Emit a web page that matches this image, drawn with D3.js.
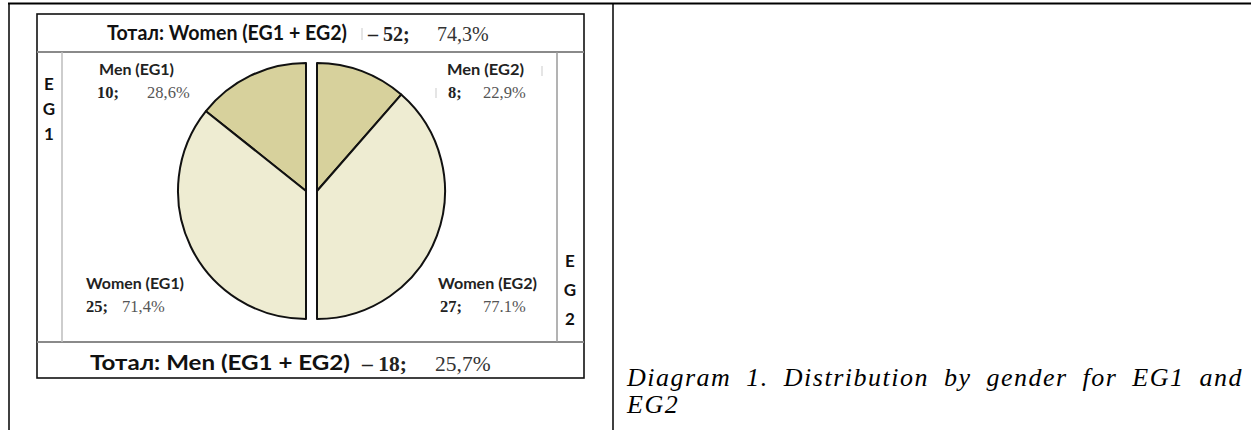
<!DOCTYPE html>
<html><head><meta charset="utf-8">
<script src="https://cdn.jsdelivr.net/npm/d3@7"></script>
<style>
html,body{margin:0;padding:0;background:#fff;}
svg{display:block;}
</style></head>
<body>
<svg id="c" width="1251" height="430"></svg>
<script>
// ---- data ----
const categories = ["Men", "Women"];
const eg1Values = [10, 25];
const eg2Values = [8, 27];
const eg1Pct = ["28,6%", "71,4%"];
const eg2Pct = ["22,9%", "77.1%"];
const totalCats = ["Women", "Men"];
const totalValues = [52, 18];
const totalPct = ["74,3%", "25,7%"];
const groupLetters1 = ["E", "G", "1"];
const groupLetters2 = ["E", "G", "2"];
const captionLine1 = "Diagram 1. Distribution by gender for EG1 and";
const captionLine2 = "EG2";

const colors = {Men: "#d7d19c", Women: "#eeecd2"};
const svg = d3.select("#c");
const sans = "Lato, 'Open Sans', sans-serif";
const serif = "'Liberation Serif', 'Times New Roman', serif";

// ---- outer document table ----
svg.append("line").attr("x1", 8).attr("x2", 1251).attr("y1", 3.5).attr("y2", 3.5).attr("stroke", "#000").attr("stroke-width", 2);
svg.append("line").attr("x1", 9).attr("x2", 9).attr("y1", 3).attr("y2", 430).attr("stroke", "#000").attr("stroke-width", 1.5);
svg.append("line").attr("x1", 613).attr("x2", 613).attr("y1", 3).attr("y2", 430).attr("stroke", "#000").attr("stroke-width", 1.5);

// ---- inner image box ----
const box = {x0: 37, x1: 584, y0: 14, y1: 378, head: 52, foot: 342, colL: 62, colR: 557};
svg.append("rect").attr("x", box.x0).attr("y", box.y0).attr("width", box.x1 - box.x0).attr("height", box.y1 - box.y0)
  .attr("fill", "#fff").attr("stroke", "#111").attr("stroke-width", 1.6);
svg.append("line").attr("x1", box.x0).attr("x2", box.x1).attr("y1", box.head).attr("y2", box.head).attr("stroke", "#8a8a8a").attr("stroke-width", 2);
svg.append("line").attr("x1", box.x0).attr("x2", box.x1).attr("y1", box.foot).attr("y2", box.foot).attr("stroke", "#8a8a8a").attr("stroke-width", 2);
svg.append("line").attr("x1", box.colL).attr("x2", box.colL).attr("y1", box.head).attr("y2", box.foot).attr("stroke", "#bdbdbd").attr("stroke-width", 1.5);
svg.append("line").attr("x1", box.colR).attr("x2", box.colR).attr("y1", box.head).attr("y2", box.foot).attr("stroke", "#9a9a9a").attr("stroke-width", 1.5);
// faint scan ticks
[[362, 28, 40], [542, 66, 76], [436, 88, 98]].forEach(([x, y1, y2]) =>
  svg.append("line").attr("x1", x).attr("x2", x).attr("y1", y1).attr("y2", y2).attr("stroke", "#d4d4d4").attr("stroke-width", 1.2));

// ---- group letters ----
svg.selectAll(".g1").data(groupLetters1).join("text")
  .attr("x", 49).attr("y", (d, i) => 90 + i * 25).attr("text-anchor", "middle")
  .attr("font-family", sans).attr("font-weight", 700).attr("font-size", 17).attr("fill", "#111").text(d => d);
svg.selectAll(".g2").data(groupLetters2).join("text")
  .attr("x", 570).attr("y", (d, i) => 267 + i * 29).attr("text-anchor", "middle")
  .attr("font-family", sans).attr("font-weight", 700).attr("font-size", 17).attr("fill", "#111").text(d => d);

// ---- totals rows ----
function totalRow(i, x, x1, y, size, valX, pctX, nsize) {
  svg.append("text").attr("x", x).attr("y", y).attr("font-family", sans).attr("font-weight", 700)
    .attr("font-size", size).attr("fill", "#111")
    .attr("textLength", x1 - x).attr("lengthAdjust", "spacingAndGlyphs")
    .text("Тотал: " + totalCats[i] + " (EG1 + EG2)");
  svg.append("text").attr("x", valX).attr("y", y + 1).attr("font-family", serif).attr("font-weight", 700)
    .attr("font-size", nsize).attr("fill", "#222").text("– " + totalValues[i] + ";");
  svg.append("text").attr("x", pctX).attr("y", y + 1).attr("font-family", serif)
    .attr("font-size", nsize).attr("fill", "#333").text(totalPct[i]);
}
totalRow(0, 107, 347, 40, 20, 368, 437, 20);
totalRow(1, 90, 350, 370, 21, 362, 435, 21.5);

// ---- half pies ----
const r = 128, cy = 191;
const arc = d3.arc().innerRadius(0).outerRadius(r);
const pieL = d3.pie().sort(null).startAngle(0).endAngle(-Math.PI);
const pieR = d3.pie().sort(null).startAngle(0).endAngle(Math.PI);

function drawHalf(values, pie, cx) {
  const g = svg.append("g").attr("transform", `translate(${cx},${cy})`);
  g.selectAll("path").data(pie(values)).join("path")
    .attr("d", arc).attr("fill", (d, i) => colors[categories[i]])
    .attr("stroke", "#111").attr("stroke-width", 2).attr("stroke-linejoin", "round");
}
drawHalf(eg1Values, pieL, 306);
drawHalf(eg2Values, pieR, 317);

// ---- slice labels ----
function sliceLabel(name, val, pct, x, x1, y, numX, pctX) {
  svg.append("text").attr("x", x).attr("y", y).attr("font-family", sans).attr("font-weight", 700)
    .attr("font-size", 15.5).attr("fill", "#222")
    .attr("textLength", x1 - x).attr("lengthAdjust", "spacingAndGlyphs").text(name);
  svg.append("text").attr("x", numX).attr("y", y + 23).attr("font-family", serif).attr("font-weight", 700)
    .attr("font-size", 16.5).attr("fill", "#222").text(val + ";");
  svg.append("text").attr("x", pctX).attr("y", y + 23).attr("font-family", serif)
    .attr("font-size", 16.5).attr("fill", "#555").text(pct);
}
sliceLabel(categories[0] + " (EG1)", eg1Values[0], eg1Pct[0], 99, 174, 75, 97, 147);
sliceLabel(categories[0] + " (EG2)", eg2Values[0], eg2Pct[0], 447, 524, 75, 448, 483);
sliceLabel(categories[1] + " (EG1)", eg1Values[1], eg1Pct[1], 86, 184, 289, 86, 122);
sliceLabel(categories[1] + " (EG2)", eg2Values[1], eg2Pct[1], 438, 537, 289, 440, 483);

// ---- caption (justified) ----
function justified(text, x0, x1, y, size) {
  const words = text.split(" ");
  const t = svg.append("text").attr("y", y).attr("font-family", serif).attr("font-style", "italic")
    .attr("font-size", size).attr("letter-spacing", 1.5).attr("fill", "#000");
  const spans = words.map(w => t.append("tspan").text(w));
  const widths = spans.map(s => s.node().getComputedTextLength());
  const total = d3.sum(widths);
  const gap = (x1 - x0 - total) / (words.length - 1);
  let x = x0;
  spans.forEach((s, i) => { s.attr("x", x); x += widths[i] + gap; });
}
justified(captionLine1, 627, 1243, 386, 26);
svg.append("text").attr("x", 627).attr("y", 413).attr("font-family", serif).attr("font-style", "italic")
  .attr("font-size", 26).attr("letter-spacing", 1.5).attr("fill", "#000").text(captionLine2);
</script>
</body></html>
